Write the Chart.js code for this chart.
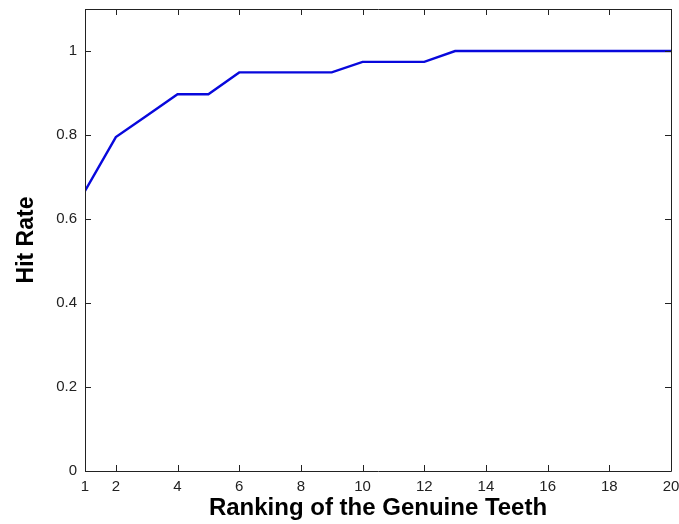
<!DOCTYPE html>
<html>
<head>
<meta charset="utf-8">
<script src="https://cdn.jsdelivr.net/npm/chart.js@4"></script>
<style>
html,body{margin:0;padding:0;background:#fff;}
canvas{display:block;}
</style>
</head>
<body>
<canvas id="c" width="679" height="524"></canvas>
<script>
const ranks = [1,2,3,4,5,6,7,8,9,10,11,12,13,14,15,16,17,18,19,20];
const hitRate = [0.667,0.795,0.846,0.897,0.897,0.949,0.949,0.949,0.949,0.974,0.974,0.974,1,1,1,1,1,1,1,1];
const xTickValues = [1,2,4,6,8,10,12,14,16,18,20];
const yTickValues = [0,0.2,0.4,0.6,0.8,1];
const xTitle = 'Ranking of the Genuine Teeth';
const yTitle = 'Hit Rate';

const boxPlugin = {
  id: 'matlabBox',
  afterDraw(chart) {
    const ctx = chart.ctx;
    const a = chart.chartArea;
    const xs = chart.scales.x, ys = chart.scales.y;
    ctx.save();
    ctx.strokeStyle = '#222';
    ctx.lineWidth = 1;
    ctx.beginPath();
    ctx.rect(Math.round(a.left) + 0.5, Math.round(a.top) + 0.5, Math.round(a.right - a.left), Math.round(a.bottom - a.top));
    ctx.stroke();
    const L = 6;
    ctx.beginPath();
    xTickValues.forEach(v => {
      const px = Math.round(xs.getPixelForValue(v)) + 0.5;
      ctx.moveTo(px, a.bottom); ctx.lineTo(px, a.bottom - L);
      ctx.moveTo(px, a.top); ctx.lineTo(px, a.top + L);
    });
    yTickValues.forEach(v => {
      const py = Math.round(ys.getPixelForValue(v)) + 0.5;
      ctx.moveTo(a.left, py); ctx.lineTo(a.left + L, py);
      ctx.moveTo(a.right, py); ctx.lineTo(a.right - L, py);
    });
    ctx.stroke();
    ctx.restore();
  }
};

function zeroPad(s) {
  s.paddingTop = 0; s.paddingBottom = 0; s.paddingLeft = 0; s.paddingRight = 0;
}

new Chart(document.getElementById('c'), {
  type: 'line',
  data: {
    labels: ranks,
    datasets: [{
      data: ranks.map((r, i) => ({x: r, y: hitRate[i]})),
      borderColor: '#0808dc',
      borderWidth: 2.4,
      pointRadius: 0,
      tension: 0,
      fill: false
    }]
  },
  options: {
    responsive: false,
    animation: false,
    layout: {padding: {left: 0, right: 8, top: 9, bottom: 0}},
    plugins: {legend: {display: false}, tooltip: {enabled: false}},
    scales: {
      x: {
        type: 'linear',
        min: 1, max: 20,
        afterBuildTicks: s => { s.ticks = xTickValues.map(v => ({value: v})); },
        afterFit: s => { s.height = 53; zeroPad(s); },
        grid: {display: false, drawTicks: false},
        border: {display: false},
        ticks: {
          autoSkip: false, maxRotation: 0, padding: 7,
          color: '#222',
          font: {family: 'Liberation Sans', size: 15}
        },
        title: {
          display: true, text: xTitle, color: '#000',
          font: {family: 'Liberation Sans', size: 24, weight: 'bold'},
          padding: {top: 0, bottom: 1}
        }
      },
      y: {
        min: 0, max: 1.1,
        afterBuildTicks: s => { s.ticks = yTickValues.map(v => ({value: v})); },
        afterFit: s => { s.width = 85; zeroPad(s); },
        grid: {display: false, drawTicks: false},
        border: {display: false},
        ticks: {
          padding: 8,
          color: '#222',
          font: {family: 'Liberation Sans', size: 15},
          callback: v => String(Math.round(v * 10) / 10)
        },
        title: {
          display: true, text: yTitle, color: '#000',
          font: {family: 'Liberation Sans', size: 23, weight: 'bold'},
          padding: {top: 13, bottom: 0}
        }
      }
    }
  },
  plugins: [boxPlugin]
});
</script>
</body>
</html>
